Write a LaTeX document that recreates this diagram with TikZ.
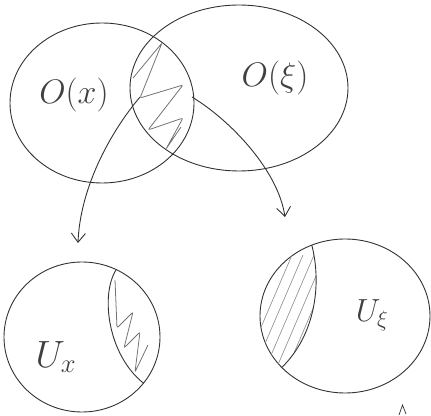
\documentclass[tikz,border=0pt]{standalone}
\IfFileExists{fix-cm.sty}{\usepackage{fix-cm}}{}
\usetikzlibrary{shapes.geometric,arrows.meta}
\begin{document}
\begin{tikzpicture}[x=1pt,y=1pt,
  region/.style={ellipse, draw=black!80, line width=0.9pt, inner sep=0pt, outer sep=0pt},
  rim/.style={draw=black!80, line width=0.9pt},
  hand/.style={font=\fontsize{34}{40}\selectfont, text=black!75},
  flow/.style={draw=black!80, line width=0.9pt, -{Straight Barb[length=9pt,width=14pt]}},
  scribble/.style={draw=black!55, line width=0.8pt, rounded corners=2pt},
  hatch/.style={draw=black!45, line width=0.6pt}]
\useasboundingbox (0,0) rectangle (431,415);

% the two neighbourhoods and the two charts
\node[region, minimum width=184pt, minimum height=160pt] (Ox) at (102,312) {};
\node[region, minimum width=218pt, minimum height=166pt] (Oxi) at (239,327) {};
\node[region, minimum width=156pt, minimum height=150pt] (Ux) at (82,78) {};
\node[region, minimum width=170pt, minimum height=154pt] (Uxi) at (345,99) {};

% labels
\node[hand] (lOx) at (74,320) {$O(x)$};
\node[hand] (lOxi) at (275,337) {$O(\xi)$};
\node[hand, font=\fontsize{38}{44}\selectfont] (lUx) at (56,58) {$U_x$};
\node[hand, font=\fontsize{32}{38}\selectfont] (lUxi) at (372,100) {$U_\xi$};

% scribbled overlap of the neighbourhoods
\begin{scope}
  \clip (Ox.center) ellipse [x radius=92pt, y radius=80pt];
  \clip (Oxi.center) ellipse [x radius=109pt, y radius=83pt];
  \draw[scribble] (133,337) -- (162,372) -- (140,317) -- (183,330) -- (148,285)
        -- (183,297) -- (166,266) -- (181,288);
\end{scope}

% image of the overlap in U_x
\coordinate (uxTop) at (116.2,145.4);
\coordinate (uxBot) at (143.5,31.8);
\begin{scope}
  \clip (uxTop) arc[start angle=64, end angle=-38, x radius=78pt, y radius=75pt]
        .. controls (108,60) and (100,120) .. cycle;
  \draw[scribble] (115,135) -- (117,87) -- (133,103) -- (124,67) -- (140,83)
        -- (135,43) -- (148,70);
\end{scope}
\draw[rim] (uxTop) .. controls (100,120) and (108,60) .. (uxBot);

% image of the overlap in U_xi
\coordinate (uxiTop) at (311.8,169.9);
\coordinate (uxiBot) at (281.8,47.5);
\begin{scope}
  \clip (uxiTop) arc[start angle=113, end angle=222, x radius=85pt, y radius=77pt]
        .. controls (315,80) and (322,130) .. cycle;
  \foreach \k in {0,...,12}
    \draw[hatch] ({232+\k*11},20) -- ++(60,140);
\end{scope}
\draw[rim] (uxiTop) .. controls (322,130) and (315,80) .. (uxiBot);

% the two maps
\coordinate (s1) at (140,318);
\coordinate (e1) at (78,172);
\coordinate (s2) at (192,318);
\coordinate (e2) at (285,198);
\draw[flow] (s1) .. controls (108,280) and (80,225) .. (e1);
\draw[flow] (s2) .. controls (230,295) and (278,245) .. (e2);

% stray pencil mark in the corner
\draw[draw=black!80, line width=0.7pt] (399,0) -- (402.5,10) -- (406,1);
\end{tikzpicture}
\end{document}
